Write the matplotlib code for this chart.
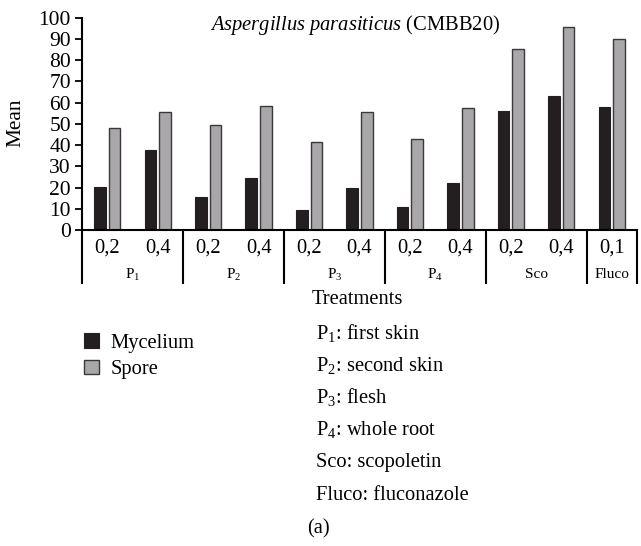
import matplotlib
matplotlib.use("Agg")
import matplotlib.pyplot as plt
import matplotlib.transforms as mtransforms
import numpy as np

# ---- data ----
conc_labels = ["0,2", "0,4", "0,2", "0,4", "0,2", "0,4", "0,2", "0,4", "0,2", "0,4", "0,1"]
group_labels = ["P$_1$", "P$_2$", "P$_3$", "P$_4$", "Sco", "Fluco"]
group_sizes = [2, 2, 2, 2, 2, 1]
mycelium = [20.4, 37.7, 15.4, 24.4, 9.4, 19.7, 11.0, 22.0, 56.0, 62.9, 57.9]
spore = [48.0, 55.3, 49.5, 58.2, 41.2, 55.3, 42.8, 57.2, 85.4, 95.3, 90.1]
yticks = list(range(0, 101, 10))
notes = ["P$_1$: first skin", "P$_2$: second skin", "P$_3$: flesh",
         "P$_4$: whole root", "Sco: scopoletin", "Fluco: fluconazole"]

plt.rcParams["font.family"] = ["Liberation Serif", "DejaVu Serif"]
plt.rcParams["mathtext.fontset"] = "custom"
plt.rcParams["mathtext.rm"] = "Liberation Serif"
plt.rcParams["mathtext.it"] = "Liberation Serif:italic"
plt.rcParams["mathtext.default"] = "rm"

FS = 14.8
W, H = 641, 546
fig = plt.figure(figsize=(W / 100, H / 100), dpi=100)
ax_l, ax_r, ax_b, ax_t = 82, 637, 230, 17.5
ax = fig.add_axes([ax_l / W, 1 - ax_b / H, (ax_r - ax_l) / W, (ax_b - ax_t) / H])

x = np.arange(len(conc_labels))
bw = 0.23
off = 0.145
ax.bar(x - off, mycelium, bw, color="#231f20", edgecolor="#231f20", linewidth=0.8, label="Mycelium")
ax.bar(x + off, spore, bw, color="#a9a7aa", edgecolor="#3a3839", linewidth=1.0, label="Spore")

ax.set_xlim(-0.5, len(conc_labels) - 0.5)
ax.set_ylim(0, 100)
ax.set_yticks(yticks)
ax.tick_params(axis="y", labelsize=15.5, length=5, width=1.3, pad=3, direction="out")
ax.set_xticks([])
for s in ["top", "right"]:
    ax.spines[s].set_visible(False)
ax.spines["left"].set_linewidth(1.5)
ax.spines["bottom"].set_linewidth(1.5)

fig.text(16 / W, 1 - 123 / H, "Mean", rotation=90, ha="center", va="center", fontsize=FS + 0.5)

# title inside plot
ax.text((355 - ax_l) / (ax_r - ax_l), (ax_b - 25) / (ax_b - ax_t),
        r"$\mathit{Aspergillus\ parasiticus}$ (CMBB20)", transform=ax.transAxes,
        ha="center", va="center", fontsize=FS)

# category labels & group labels below axis
trans = mtransforms.blended_transform_factory(ax.transData, fig.transFigure)
for xi, lab in zip(x, conc_labels):
    ax.text(xi, 1 - 248 / H, lab, transform=trans, ha="center", va="center",
            fontsize=FS, clip_on=False)

start = -0.5
bounds = [start]
for g, n in zip(group_labels, group_sizes):
    center = start + n / 2
    ax.text(center, 1 - 275 / H, g, transform=trans, ha="center", va="center",
            fontsize=11, clip_on=False)
    start += n
    bounds.append(start)
for b in bounds:
    ax.plot([b, b], [1 - ax_b / H, 1 - 284 / H], transform=trans, color="black",
            linewidth=1.5, clip_on=False, solid_capstyle="butt")

fig.text(357 / W, 1 - 300 / H, "Treatments", ha="center", va="center", fontsize=FS)

# legend
handles, labels = ax.get_legend_handles_labels()
fig.legend(handles, labels, loc="upper left", bbox_to_anchor=(76 / W, 1 - 325 / H),
           frameon=False, fontsize=FS, handlelength=0.7, handleheight=0.7,
           handletextpad=0.6, labelspacing=0.35, borderaxespad=0)

# notes
ys = [333, 365, 397, 430, 463, 496]
for yy, t in zip(ys, notes):
    fig.text(316 / W, 1 - yy / H, t, ha="left", va="center", fontsize=FS)
fig.text(318 / W, 1 - 529 / H, "(a)", ha="center", va="center", fontsize=FS)

fig.savefig("out.png", dpi=100)
